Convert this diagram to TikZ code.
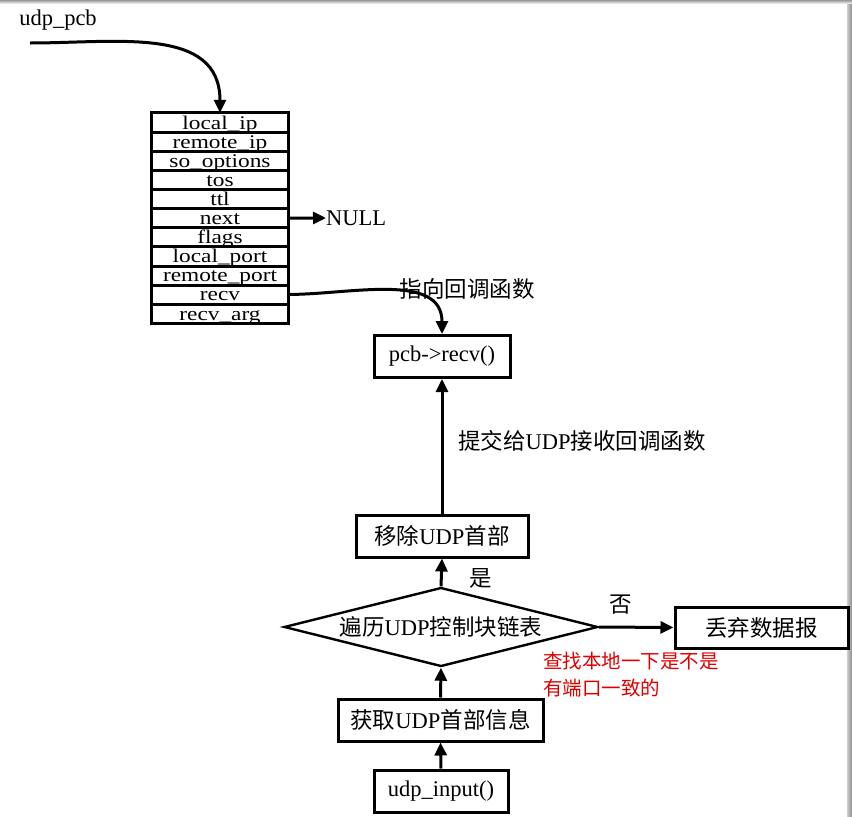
\documentclass[tikz,border=0pt]{standalone}
\usepackage{fontspec}
\usepackage{graphicx}
\setmainfont{Liberation Serif}
\newfontfamily\cjk{Noto Sans CJK SC}
\usetikzlibrary{arrows.meta,shapes.geometric}
\tikzset{
  arr/.style={line width=3pt,-{Triangle[length=13pt,width=12pt]}},
  box/.style={draw,line width=3pt,minimum height=42pt,inner sep=0pt,font=\fontsize{22.5}{26}\selectfont},
  cell/.style={minimum width=136pt,minimum height=19.1pt,text height=16pt,text depth=3pt,inner xsep=0pt,inner ysep=0pt,font=\fontsize{22}{24}\selectfont},
  lbl/.style={inner sep=0pt,font=\fontsize{22.5}{26}\selectfont},
  tbl/.style={line width=3pt},
}
\begin{document}
\begin{tikzpicture}[x=1pt,y=-1pt]
\useasboundingbox (0,0) rectangle (852,817);
\fill[white] (0,0) rectangle (852,817);
\shade[top color=black!40,bottom color=white] (0,0) rectangle (852,4);
\shade[left color=black!20,right color=black!45] (847,4) rectangle (852,817);

% udp_pcb label and arrow
\node[lbl] (pcbname) at (58,20) {udp\_pcb};
\coordinate (pcbstart) at (30,43);

% struct table
\foreach \t [count=\i] in {local\_ip,remote\_ip,so\_options,tos,ttl,next,flags,local\_port,remote\_port,recv,recv\_arg}{
  \node[cell] (r\i) at (220,{113+19.1*\i-9.55}) {\scalebox{1.06}[0.88]{\t}};
}
\draw[tbl] (r1.north west) rectangle (r11.south east);
\foreach \i in {1,...,10}{\draw[tbl] (r\i.south west) -- (r\i.south east);}

\draw[arr] (pcbstart) to[out=0,in=90,looseness=1.1] (r1.north);

% NULL
\node[lbl,anchor=west] (null) at (326,218) {NULL};
\draw[arr] (r6.east) -- (null.west);

% boxes
\node[box,minimum width=136pt] (recvbox) at (442,356.5) {pcb->recv()};
\node[box,minimum width=172pt] (strip) at (442,536) {{\cjk 移除}UDP{\cjk 首部}};
\node[draw,diamond,line width=2.4pt,aspect=4,inner sep=0pt,minimum width=314pt,minimum height=79pt,font=\fontsize{22.5}{26}\selectfont] (walk) at (441,627) {{\cjk 遍历}UDP{\cjk 控制块链表}};
\node[box,minimum width=173pt,minimum height=41pt] (drop) at (761.5,627.5) {\cjk 丢弃数据报};
\node[box,minimum width=205pt] (gethdr) at (440.5,720) {{\cjk 获取}UDP{\cjk 首部信息}};
\node[box,minimum width=134pt] (input) at (441,791) {udp\_input()};

% connectors
\draw[arr] (r10.east) to[out=0,in=90,looseness=1.0] (recvbox.north);
\node[lbl] (pointlbl) at (467,289) {\cjk 指向回调函数};
\draw[arr] (strip.north) -- (recvbox.south);
\node[lbl] (submitlbl) at (582,441) {{\cjk 提交给}UDP{\cjk 接收回调函数}};
\draw[arr] (walk.north) -- (strip.south);
\node[lbl] (yes) at (481,578) {\cjk 是};
\draw[arr] (walk.east) -- (drop.west);
\node[lbl] (no) at (621,605) {\cjk 否};
\draw[arr] (gethdr.north) -- (walk.south);
\draw[arr] (input.north) -- (gethdr.south);

% red note
\node[anchor=west,align=left,inner sep=0pt,text=red!88!black,font=\cjk\fontsize{19.5}{27}\selectfont] (note) at (543,675) {查找本地一下是不是\\有端口一致的};
\end{tikzpicture}
\end{document}
